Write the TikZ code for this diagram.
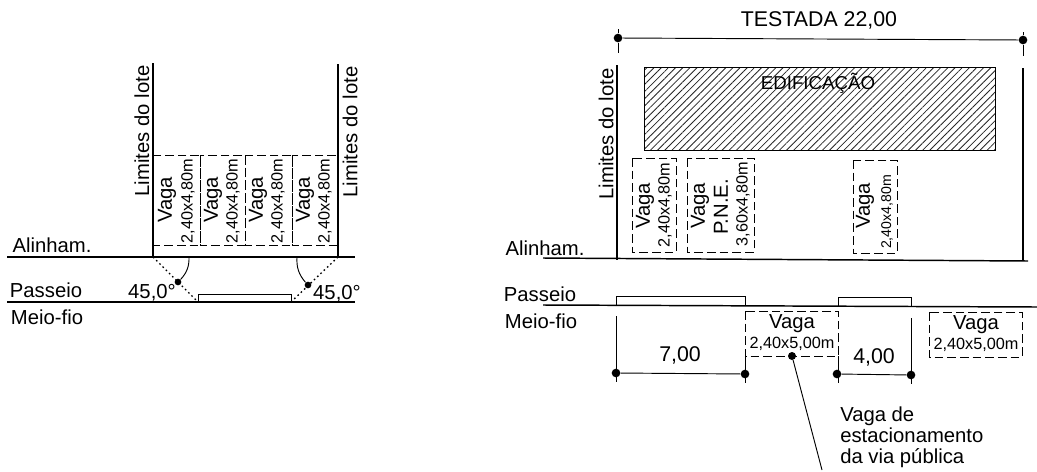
\documentclass[tikz,border=0pt]{standalone}
\usepackage{fontspec}
\setmainfont{Liberation Sans}
\usetikzlibrary{positioning,patterns.meta}
\tikzset{label15/.style={inner sep=0pt,font=\fontsize{15.2}{18}\selectfont},
         label12/.style={inner sep=0pt,font=\fontsize{12.2}{14}\selectfont},
         label16/.style={inner sep=0pt,font=\fontsize{16}{18}\selectfont},
         upright/.style={rotate=90},
         dimdot/.style={circle,fill=black,inner sep=0pt,minimum size=6.5pt},
         hatchbox/.style={draw,line width=0.6pt,pattern color=black!85,pattern={Lines[angle=45,distance=3.8pt,line width=0.6pt]}}
}
\tikzstyle{wall} = [line width=1.1pt]
\tikzstyle{thin} = [line width=0.7pt]
\tikzstyle{vagabox} = [line width=0.75pt,dash pattern=on 6.5pt off 3pt]
\tikzstyle{dotline} = [line width=1pt,dash pattern=on 1.2pt off 2.2pt]

\begin{document}
\begin{tikzpicture}[x=0.75pt,y=-0.75pt]
\useasboundingbox (0,0) rectangle (1037,471);

% left lot
\coordinate (la) at (153,63);
\coordinate (lb) at (153,257);
\coordinate (lc) at (338,64);
\coordinate (ld) at (338,257);
\coordinate (le) at (7,257);
\coordinate (lf) at (355,257);
\coordinate (lg) at (7,302);
\coordinate (lh) at (355,302);
\coordinate (li) at (198,302);
\coordinate (lj) at (291,302);
\draw[wall] (la)--(lb);
\draw[wall] (lc)--(ld);
\draw[wall] (le)--(lf);
\draw[wall] (lg)--(lh);
\draw[thin] (li)--++(0,-8)-|(lj);
\draw[dotline] (lb)--(li);
\draw[dotline] (ld)--(lj);
\draw[vagabox] (153,155) rectangle (200,245);
\draw[vagabox] (200,155) rectangle (245,245);
\draw[vagabox] (245,155) rectangle (292,245);
\draw[vagabox] (292,155) rectangle (338,245);

\node[dimdot,minimum size=5pt] (anglea) at (178,282) {};
\node[dimdot,minimum size=5pt] (angleb) at (308,285) {};
\coordinate (arca) at (189,257);
\coordinate (arcb) at (297,257);
\draw[thin] (arca) to[bend left=22] (anglea);
\draw[thin] (arcb) to[bend right=22] (angleb);

\node[label15,upright] (limitea) at (142,131) {Limites do lote};
\node[label15,upright] (limiteb) at (350,132) {Limites do lote};
\node[label15,upright] (vagaa) at (167,200) {Vaga};
\node[label15,upright] (vagab) at (213,200) {Vaga};
\node[label15,upright] (vagac) at (258,200) {Vaga};
\node[label15,upright] (vagad) at (305,200) {Vaga};
\node[label12,upright] (sizea) at (188,201) {2,40x4,80m};
\node[label12,upright] (sizeb) at (233,201) {2,40x4,80m};
\node[label12,upright] (sizec) at (278,201) {2,40x4,80m};
\node[label12,upright] (sized) at (325,201) {2,40x4,80m};
\node[label15] (alinhama) at (52,245) {Alinham.};
\node[label15] (passeioa) at (46,290) {Passeio};
\node[label15] (meiofioa) at (47,317) {Meio-fio};
\node[label15] (anglelabela) at (152,293) {45,0°};
\node[label15] (anglelabelb) at (337,294) {45,0°};

% right lot
\node[dimdot] (testa) at (618,38) {};
\node[dimdot] (testb) at (1023,40) {};
\node[label16] (testada) at (819,20) {TESTADA 22,00};
\coordinate (ma) at (617,65);
\coordinate (mb) at (617,260);
\coordinate (mc) at (1023,68);
\coordinate (md) at (1023,260);
\coordinate (me) at (543,258);
\coordinate (mf) at (1028,261);
\coordinate (mg) at (543,305);
\coordinate (mh) at (1037,307);
\draw[thin] (testa)--(testb);
\draw[thin] (testa)--++(0,-9);
\draw[thin] (testa)--++(0,15);
\draw[thin] (testb)--++(0,-8);
\draw[thin] (testb)--++(0,16);
\draw[wall] (ma)--(mb);
\draw[wall] (mc)--(md);
\draw[wall] (me)--(mf);
\draw[wall] (mg)--(mh);
\draw[hatchbox] (644,67) rectangle (995,150);
\node[label15,font=\fontsize{14}{16}\selectfont] (edificacao) at (818,83) {EDIFICAÇÃO};

\draw[vagabox] (632,158) rectangle (676,252);
\draw[vagabox] (687,158) rectangle (754,252);
\draw[vagabox] (853,160) rectangle (897,253);
\node[label15,upright] (limitec) at (606,134) {Limites do lote};
\node[label15,upright] (vagae) at (645,206) {Vaga};
\node[label15,upright] (vagaf) at (700,206) {Vaga};
\node[label15,upright] (vagag) at (865,206) {Vaga};
\node[label15,upright] (pne) at (721,207) {P.N.E.};
\node[label12,upright] (sizee) at (665,205) {2,40x4,80m};
\node[label12,upright] (sizef) at (743,204) {3,60x4,80m};
\node[label12,upright,font=\fontsize{10.6}{12}\selectfont] (sizeg) at (887,212) {2,40x4,80m};
\node[label15] (alinhamb) at (545,248) {Alinham.};
\node[label15] (passeiob) at (540,294) {Passeio};
\node[label15] (meiofiob) at (541,321) {Meio-fio};

\draw[thin] (616,306)--(616,296)-|(745,306);
\draw[thin] (838,306)--(838,297)-|(911,306);
\draw[vagabox] (745,311) rectangle (838,356);
\draw[vagabox] (929,312) rectangle (1022,357);
\node[label15] (vagah) at (792,324) {Vaga};
\node[label12] (sizeh) at (792,344) {2,40x5,00m};
\node[label15] (vagai) at (976,325) {Vaga};
\node[label12] (sizei) at (976,345) {2,40x5,00m};

\node[dimdot] (dima) at (616,373) {};
\node[dimdot] (dimb) at (745,374) {};
\node[dimdot] (dimc) at (837,374) {};
\node[dimdot] (dimd) at (911,375) {};
\node[label16] (seven) at (680,355) {7,00};
\node[label16] (four) at (874,357) {4,00};
\draw[thin] (dima)--(dimb);
\draw[thin] (dimc)--(dimd);
\draw[thin] (616,316)--(616,382);
\draw[thin] (745,356)--(745,383);
\draw[thin] (838,356)--(838,383);
\draw[thin] (911,318)--(911,384);

\node[dimdot,minimum size=6pt] (leadera) at (792,356) {};
\coordinate (leaderb) at (822,470);
\draw[thin] (leadera)--(leaderb);
\node[label15,anchor=base west] (notea) at (840,421) {Vaga de};
\node[label15,anchor=base west] (noteb) at (840,442) {estacionamento};
\node[label15,anchor=base west] (notec) at (840,463) {da via pública};

\end{tikzpicture}
\end{document}
